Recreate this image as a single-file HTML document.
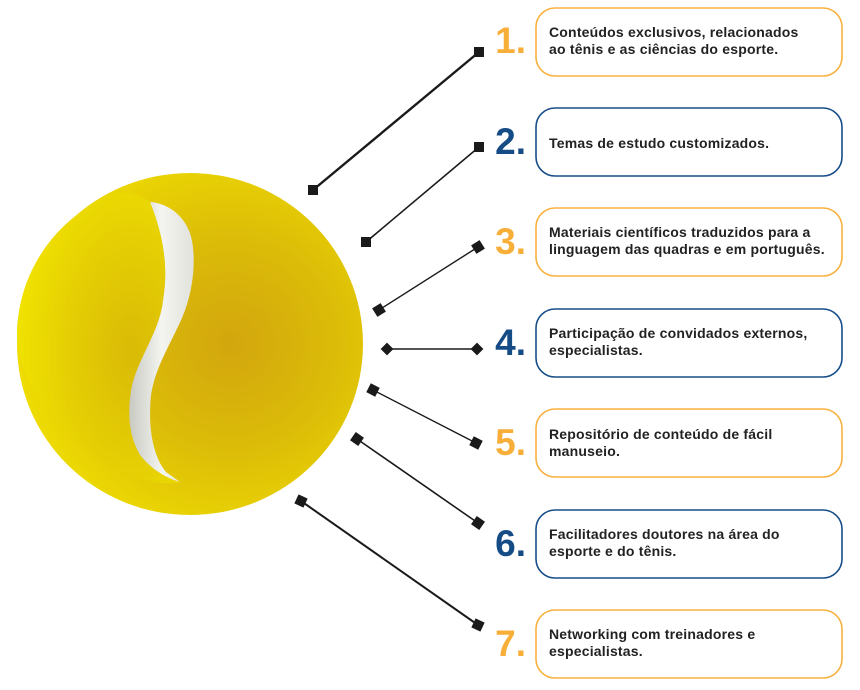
<!DOCTYPE html>
<html>
<head>
<meta charset="utf-8">
<style>
html,body{margin:0;padding:0;background:#fff;}
body{width:860px;height:690px;overflow:hidden;}
svg{display:block;}
.t{font-family:"Liberation Sans",Arial,sans-serif;font-size:14px;letter-spacing:0.2px;font-weight:bold;fill:#222;}
.n{font-family:"Liberation Sans",Arial,sans-serif;font-size:37px;font-weight:bold;}
</style>
</head>
<body>
<svg width="860" height="690" viewBox="0 0 860 690" xmlns="http://www.w3.org/2000/svg">
<defs>
<radialGradient id="ballg" cx="0.62" cy="0.5" r="0.62">
<stop offset="0" stop-color="#D2A60E"/>
<stop offset="0.5" stop-color="#DCBC08"/>
<stop offset="1" stop-color="#EEDC02"/>
</radialGradient>
<radialGradient id="leftg" cx="0.7" cy="0.55" r="0.7">
<stop offset="0" stop-color="#D9BA06"/>
<stop offset="0.6" stop-color="#E6D004"/>
<stop offset="1" stop-color="#F0E200"/>
</radialGradient>
<linearGradient id="seamg" x1="0" y1="0" x2="1" y2="0">
<stop offset="0" stop-color="#C9C9C2"/>
<stop offset="0.5" stop-color="#F4F4F0"/>
<stop offset="1" stop-color="#E2E2DC"/>
</linearGradient>
</defs>

<!-- ball -->
<ellipse cx="190" cy="344" rx="173" ry="171" fill="url(#ballg)"/>
<!-- seam -->
<path d="M150,202 C165,203 182,212 190,233 C197,255 194,290 182,318 C170,345 155,368 151,395 C148,425 152,455 166,472 L180,482 C165,478 150,468 140,455 C128,435 127,410 132,385 C140,355 160,330 163,300 C168,270 165,240 150,202 Z" fill="url(#seamg)"/>
<!-- left panel -->
<path d="M150,202 C165,240 168,270 163,300 C160,330 140,355 132,385 C127,410 128,435 140,455 C150,468 165,478 180,482 C150,488 110,470 80,445 C40,410 17,370 17,330 C20,270 55,220 110,195 C125,190 140,194 150,202 Z" fill="url(#leftg)"/>

<!-- connectors -->
<g stroke="#1a1a1a" fill="none">
<line x1="313" y1="190" x2="479" y2="52" stroke-width="2.4"/>
<line x1="366" y1="242" x2="479" y2="147" stroke-width="1.6"/>
<line x1="379" y1="310" x2="478" y2="247" stroke-width="1.4"/>
<line x1="387" y1="349" x2="477" y2="349" stroke-width="1.4"/>
<line x1="373" y1="390" x2="476" y2="443" stroke-width="1.4"/>
<line x1="357" y1="439" x2="478" y2="523" stroke-width="1.6"/>
<line x1="301" y1="501" x2="478" y2="625" stroke-width="2"/>
</g>
<g fill="#1a1a1a">
<rect x="308" y="185" width="10" height="10"/>
<rect x="474" y="47" width="10" height="10"/>
<rect x="361" y="237" width="10" height="10"/>
<rect x="474" y="142" width="10" height="10"/>
<rect x="-5" y="-5" width="10" height="10" transform="translate(379,310) rotate(-32)"/>
<rect x="-5" y="-5" width="10" height="10" transform="translate(478,247) rotate(-32)"/>
<rect x="-4.5" y="-4.5" width="9" height="9" transform="translate(387,349) rotate(45)"/>
<rect x="-4.5" y="-4.5" width="9" height="9" transform="translate(477,349) rotate(45)"/>
<rect x="-5" y="-5" width="10" height="10" transform="translate(373,390) rotate(27)"/>
<rect x="-5" y="-5" width="10" height="10" transform="translate(476,443) rotate(27)"/>
<rect x="-5" y="-5" width="10" height="10" transform="translate(357,439) rotate(35)"/>
<rect x="-5" y="-5" width="10" height="10" transform="translate(478,523) rotate(35)"/>
<rect x="-5" y="-5" width="10" height="10" transform="translate(301,501) rotate(25)"/>
<rect x="-5" y="-5" width="10" height="10" transform="translate(478,625) rotate(25)"/>
</g>

<!-- boxes -->
<g fill="#fff" stroke-width="1.6">
<rect x="536" y="8" width="306" height="68" rx="19" stroke="#F8B140"/>
<rect x="536" y="108" width="306" height="68" rx="19" stroke="#174D88"/>
<rect x="536" y="208" width="306" height="68" rx="19" stroke="#F8B140"/>
<rect x="536" y="309" width="306" height="68" rx="19" stroke="#174D88"/>
<rect x="536" y="409" width="306" height="68" rx="19" stroke="#F8B140"/>
<rect x="536" y="510" width="306" height="68" rx="19" stroke="#174D88"/>
<rect x="536" y="610" width="306" height="68" rx="19" stroke="#F8B140"/>
</g>

<!-- numbers -->
<g class="n" text-anchor="end">
<text x="526" y="53" fill="#F8AF3A">1.</text>
<text x="526" y="154" fill="#164C86">2.</text>
<text x="526" y="254" fill="#F8AF3A">3.</text>
<text x="526" y="355" fill="#164C86">4.</text>
<text x="526" y="455" fill="#F8AF3A">5.</text>
<text x="526" y="556" fill="#164C86">6.</text>
<text x="526" y="656" fill="#F8AF3A">7.</text>
</g>

<!-- texts -->
<g class="t">
<text x="549" y="37">Conteúdos exclusivos, relacionados</text>
<text x="549" y="54">ao tênis e as ciências do esporte.</text>
<text x="549" y="148">Temas de estudo customizados.</text>
<text x="549" y="237">Materiais científicos traduzidos para a</text>
<text x="549" y="254">linguagem das quadras e em português.</text>
<text x="549" y="338">Participação de convidados externos,</text>
<text x="549" y="355">especialistas.</text>
<text x="549" y="439">Repositório de conteúdo de fácil</text>
<text x="549" y="456">manuseio.</text>
<text x="549" y="539">Facilitadores doutores na área do</text>
<text x="549" y="556">esporte e do tênis.</text>
<text x="549" y="639">Networking com treinadores e</text>
<text x="549" y="656">especialistas.</text>
</g>
</svg>
</body>
</html>
